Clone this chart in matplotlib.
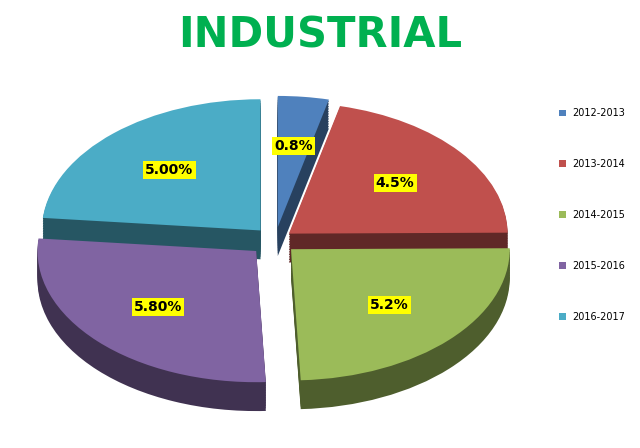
import matplotlib
matplotlib.use("Agg")
import matplotlib.pyplot as plt
import numpy as np
import matplotlib.colors as mc
from matplotlib.patches import Patch

years = ["2012-2013", "2013-2014", "2014-2015", "2015-2016", "2016-2017"]
values = [0.8, 4.5, 5.2, 5.8, 5.0]
labels = ["0.8%", "4.5%", "5.2%", "5.80%", "5.00%"]
colors = ["#4F81BD", "#C0504D", "#9BBB59", "#8064A2", "#4BACC6"]

fig = plt.figure(figsize=(6.4, 4.48), dpi=100)
fig.patch.set_facecolor("white")
ax = fig.add_axes([0.02, 0.02, 0.82, 0.80])
explode = [0.1, 0.08, 0.1, 0.12, 0.1]

dark = [tuple(np.array(mc.to_rgb(c)) * 0.5) for c in colors]
for d in np.linspace(0.22, 0.01, 12):
    ax.pie(values, colors=dark, startangle=90, counterclock=False,
           explode=explode, center=(0, -d), radius=1.0,
           wedgeprops=dict(linewidth=0))
wedges, texts = ax.pie(values, colors=colors, startangle=90, counterclock=False,
                       explode=explode, radius=1.0, labels=labels, labeldistance=0.62,
                       wedgeprops=dict(linewidth=0))
for t in texts:
    t.set_fontsize(10)
    t.set_fontweight("bold")
    t.set_ha("center")
    t.set_bbox(dict(facecolor="yellow", edgecolor="none", pad=1.5))
ax.set_xlim(-1.2, 1.2)
ax.set_ylim(-1.45, 1.15)
ax.set_aspect(0.6)
ax.axis("off")

fig.text(0.5, 0.92, "INDUSTRIAL", ha="center", va="center", fontsize=30,
         fontweight="bold", color="#00B050")

handles = [Patch(facecolor=c) for c in colors]
fig.legend(handles, years, loc="center left", bbox_to_anchor=(0.86, 0.52),
           frameon=False, fontsize=7, labelspacing=4.2, handlelength=0.7,
           handleheight=0.7, handletextpad=0.6)
fig.savefig("out.png", dpi=100)
